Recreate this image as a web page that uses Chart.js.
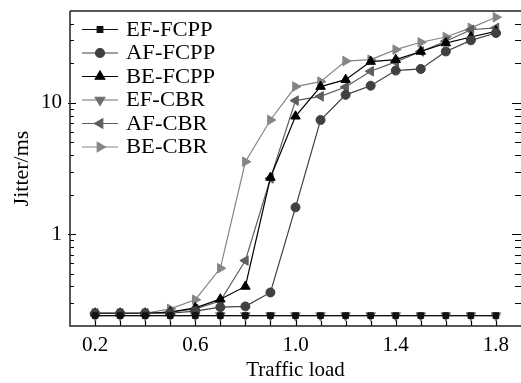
<!DOCTYPE html>
<html>
<head>
<meta charset="utf-8">
<script src="https://cdn.jsdelivr.net/npm/chart.js@4/dist/chart.umd.min.js"></script>
<style>
html,body{margin:0;padding:0;background:#fff;}
#wrap{width:521px;height:383px;position:relative;}
</style>
</head>
<body>
<div id="wrap"><canvas id="c" width="521" height="383"></canvas></div>
<script>
// ---- data ----
const trafficLoad = [0.2,0.3,0.4,0.5,0.6,0.7,0.8,0.9,1.0,1.1,1.2,1.3,1.4,1.5,1.6,1.7,1.8];
const efFcpp = [0.24,0.24,0.24,0.24,0.24,0.24,0.24,0.24,0.24,0.24,0.24,0.24,0.24,0.24,0.24,0.24,0.24];
const afFcpp = [0.25,0.25,0.25,0.25,0.26,0.278,0.282,0.36,1.6,7.4,11.5,13.5,17.6,18.1,24.6,29.9,34.0];
const beFcpp = [0.25,0.25,0.25,0.255,0.275,0.32,0.40,2.7,7.9,13.3,15.0,20.6,21.3,24.6,28.5,31.7,35.0];
const efCbr  = [0.24,0.24,0.24,0.24,0.24,0.24,0.24,0.24,0.24,0.24,0.24,0.24,0.24,0.24,0.24,0.24,0.24];
const afCbr  = [0.25,0.25,0.25,0.255,0.27,0.31,0.63,2.66,10.4,11.2,13.2,17.4,20.5,24.6,29.4,36.0,37.2];
const beCbr  = [0.25,0.25,0.25,0.27,0.317,0.55,3.56,7.4,13.3,14.5,20.8,21.3,25.4,28.9,31.7,37.2,44.8];
const seriesNames = ['EF-FCPP','AF-FCPP','BE-FCPP','EF-CBR','AF-CBR','BE-CBR'];
const xTickLabels = [0.2,0.6,1.0,1.4,1.8];
const yTickLabels = [1,10];
const xMinorTicks = trafficLoad;
const yMinorTicks = [0.3,0.4,0.5,0.6,0.7,0.8,0.9,2,3,4,5,6,7,8,9,20,30,40];

const FONT = "'Liberation Serif', 'Times New Roman', serif";

function mk(name, vals, color, style, rot, r) {
  return {
    label: name,
    data: trafficLoad.map((x,i)=>({x:x, y:vals[i]})),
    borderColor: color,
    backgroundColor: color,
    pointBackgroundColor: color,
    pointBorderColor: color,
    pointStyle: style,
    rotation: rot,
    pointRadius: r,
    pointBorderWidth: 1,
    borderWidth: 1.2,
    tension: 0,
    fill: false,
    clip: false
  };
}

const datasets = [
  mk(seriesNames[0], efFcpp, '#111111', 'rect', 0, 4),
  mk(seriesNames[1], afFcpp, '#404040', 'circle', 0, 4.5),
  mk(seriesNames[2], beFcpp, '#000000', 'triangle', 0, 5.5),
  mk(seriesNames[3], efCbr, '#6e6e6e', 'triangle', 180, 5.5),
  mk(seriesNames[4], afCbr, '#5e5e5e', 'triangle', 270, 5.5),
  mk(seriesNames[5], beCbr, '#858585', 'triangle', 90, 5.5)
];

const framePlugin = {
  id: 'frame',
  beforeDatasetsDraw(chart) {
    const {ctx, chartArea: a, scales: {x, y}} = chart;
    ctx.save();
    ctx.strokeStyle = '#000';
    ctx.lineWidth = 1.2;
    ctx.beginPath();
    xMinorTicks.forEach(v => {
      const px = Math.round(x.getPixelForValue(v)) + 0.5;
      const major = xTickLabels.some(t => Math.abs(t - v) < 1e-9);
      ctx.moveTo(px, a.bottom);
      ctx.lineTo(px, a.bottom - (major ? 8 : 5));
    });
    yTickLabels.forEach(v => {
      const py = Math.round(y.getPixelForValue(v)) + 0.5;
      ctx.moveTo(a.left - 2, py); ctx.lineTo(a.left + 6, py);
      ctx.moveTo(a.right, py); ctx.lineTo(a.right - 9, py);
    });
    yMinorTicks.forEach(v => {
      const py = Math.round(y.getPixelForValue(v)) + 0.5;
      ctx.moveTo(a.left, py); ctx.lineTo(a.left + 4, py);
      ctx.moveTo(a.right, py); ctx.lineTo(a.right - 6, py);
    });
    ctx.stroke();
    ctx.lineWidth = 1.5;
    ctx.strokeStyle = '#222';
    ctx.beginPath();
    ctx.moveTo(a.left, a.top);
    ctx.lineTo(a.right + 2, a.top);
    ctx.moveTo(a.left, a.top);
    ctx.lineTo(a.left, a.bottom);
    ctx.lineTo(a.right + 2, a.bottom);
    ctx.stroke();
    ctx.restore();
  }
};

const legendPlugin = {
  id: 'customLegend',
  afterDatasetsDraw(chart) {
    const {ctx} = chart;
    ctx.save();
    ctx.textBaseline = 'middle';
    ctx.textAlign = 'left';
    chart.data.datasets.forEach((ds, i) => {
      const yy = 29.5 + i * 23.5;
      ctx.strokeStyle = ds.borderColor;
      ctx.fillStyle = ds.borderColor;
      ctx.lineWidth = 1.2;
      ctx.beginPath();
      ctx.moveTo(82, yy); ctx.lineTo(118, yy);
      ctx.stroke();
      Chart.helpers.drawPoint(ctx, {pointStyle: ds.pointStyle, rotation: ds.rotation, radius: ds.pointRadius, borderWidth: 1}, 100, yy);
      ctx.save();
      ctx.translate(126, yy + 1);
      ctx.scale(1.13, 1);
      ctx.font = "20px " + FONT;
      ctx.fillStyle = '#000';
      ctx.fillText(ds.label, 0, 0);
      ctx.restore();
    });
    ctx.restore();
  }
};

new Chart(document.getElementById('c'), {
  type: 'line',
  data: { datasets },
  options: {
    responsive: false,
    animation: false,
    devicePixelRatio: 1,
    layout: { autoPadding: false, padding: { top: 11, right: 0, left: 0, bottom: 0 } },
    plugins: { legend: { display: false }, tooltip: { enabled: false } },
    scales: {
      x: {
        type: 'linear', min: 0.1, max: 1.9,
        grid: { display: false, drawTicks: false },
        border: { display: false },
        afterBuildTicks: s => { s.ticks = xTickLabels.map(v => ({value: v})); },
        afterFit: s => { s.height = 57; s.paddingLeft = 0; s.paddingRight = 0; },
        ticks: { color: '#000', font: { family: FONT, size: 21 }, padding: 7, maxRotation: 0,
          callback: v => Number(v).toFixed(1) },
        title: { display: true, text: 'Traffic load', color: '#000', font: { family: FONT, size: 21 }, padding: { top: 0, bottom: 0 } }
      },
      y: {
        type: 'logarithmic', min: 0.2, max: 50,
        grid: { display: false, drawTicks: false },
        border: { display: false },
        afterBuildTicks: s => { s.ticks = yTickLabels.map(v => ({value: v})); },
        afterFit: s => { s.width = 70; s.paddingTop = 0; s.paddingBottom = 0; },
        ticks: { color: '#000', font: { family: FONT, size: 21 }, padding: 8,
          callback: v => String(v) },
        title: { display: true, text: 'Jitter/ms', color: '#000', font: { family: FONT, size: 22 }, padding: { top: 9, bottom: 0 } }
      }
    }
  },
  plugins: [framePlugin, legendPlugin]
});
</script>
</body>
</html>
